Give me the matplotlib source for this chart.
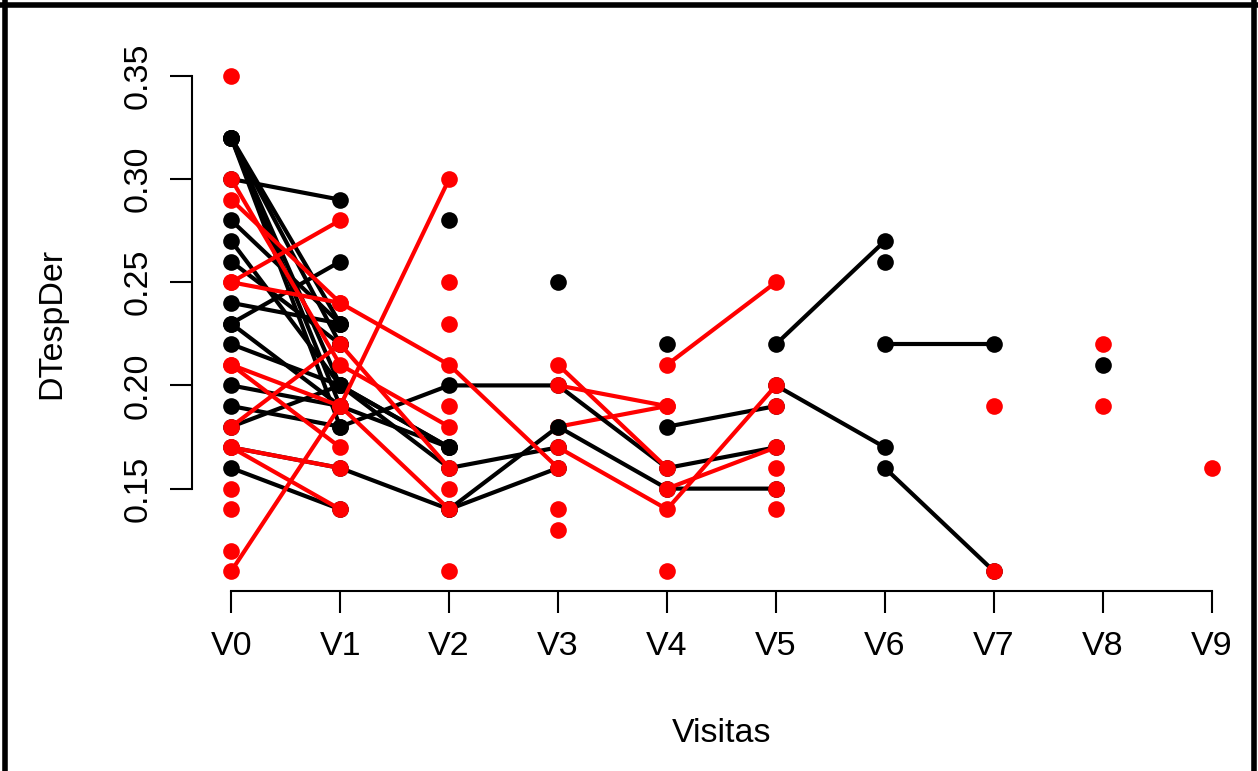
import numpy as np
import matplotlib.pyplot as plt
from matplotlib.lines import Line2D

plt.rcParams['font.family'] = ['Liberation Sans', 'DejaVu Sans']

visits = ['V0', 'V1', 'V2', 'V3', 'V4', 'V5', 'V6', 'V7', 'V8', 'V9']
yticks = [0.15, 0.20, 0.25, 0.30, 0.35]

# one entry per subject (drawing order): group, first visit, values at consecutive visits
subj_group = ['r'] + ['k'] * 29 + ['r'] * 36
subj_start = ([3] +
              [0] * 18 + [2, 2, 3, 4, 4, 5, 5, 6, 6, 6, 8] +
              [0] * 14 + [2] * 5 + [3] * 5 + [4] * 3 + [5] * 4 + [7, 7, 8, 8, 9])
subj_values = [
    [0.18, 0.19],
    # black, from V0
    [0.30, 0.29],
    [0.32, 0.23],
    [0.32, 0.20, 0.17],
    [0.32, 0.19, 0.17],
    [0.32, 0.18, 0.20, 0.20, 0.16, 0.17],
    [0.32, 0.22],
    [0.28, 0.23],
    [0.27, 0.20, 0.17],
    [0.26, 0.22],
    [0.23, 0.26],
    [0.23, 0.19],
    [0.22, 0.20, 0.16, 0.17],
    [0.24, 0.23],
    [0.20, 0.19],
    [0.19, 0.18],
    [0.18, 0.20],
    [0.17, 0.16, 0.14, 0.18, 0.15, 0.15],
    [0.16, 0.14],
    # black, later visits
    [0.28],
    [0.14, 0.16],
    [0.25],
    [0.22],
    [0.18, 0.19],
    [0.22, 0.27],
    [0.20, 0.17],
    [0.26],
    [0.22, 0.22],
    [0.16, 0.11],
    [0.21],
    # red, from V0
    [0.35],
    [0.30, 0.21, 0.18],
    [0.29, 0.24, 0.21, 0.16],
    [0.25, 0.28],
    [0.25, 0.24],
    [0.18, 0.22, 0.16],
    [0.21, 0.19, 0.14],
    [0.21, 0.17],
    [0.17, 0.16],
    [0.17, 0.14],
    [0.15],
    [0.14],
    [0.12],
    [0.11, 0.19, 0.30],
    # red, later visits
    [0.25], [0.23], [0.19], [0.15], [0.11],
    [0.21, 0.16],
    [0.20, 0.19],
    [0.17, 0.14, 0.20],
    [0.14], [0.13],
    [0.21, 0.25],
    [0.15, 0.17],
    [0.11],
    [0.19], [0.16], [0.15], [0.14],
    [0.19], [0.11],
    [0.22], [0.19],
    [0.16],
]
colors = {'k': 'black', 'r': '#ff0000'}

W, H = 1258, 771
fig = plt.figure(figsize=(W / 100, H / 100), dpi=100)
ax = fig.add_axes([192 / W, 1 - 591 / H, (1251 - 192) / W, (591 - 56) / H])

for g, s, vals in zip(subj_group, subj_start, subj_values):
    x = np.arange(s, s + len(vals))
    ax.plot(x, vals, '-o', color=colors[g], lw=3.0, markersize=12,
            markeredgewidth=0, solid_capstyle='round', clip_on=False)

ax.set_xlim(-0.36, 9.36)
ax.set_ylim(0.1004, 0.3596)
for side in ['top', 'right']:
    ax.spines[side].set_visible(False)
ax.spines['left'].set_bounds(0.15, 0.35)
ax.spines['bottom'].set_bounds(0, 9)
for side in ['left', 'bottom']:
    ax.spines[side].set_linewidth(1.5)

ax.set_xticks(range(len(visits)))
ax.set_xticklabels(visits)
ax.set_yticks(yticks)
ax.set_yticklabels(['%.2f' % v for v in yticks], rotation=90, va='center')
ax.tick_params(length=15.5, width=1.5, labelsize=24.5, color='black')
ax.tick_params(axis='x', pad=13)
ax.tick_params(axis='y', pad=12)

ax.set_xlabel('Visitas', fontsize=24.5)
ax.xaxis.label.set_va('center')
ax.xaxis.set_label_coords(0.5, (591 - 733) / (591 - 56))
ax.set_ylabel('DTespDer', fontsize=24.5)
ax.yaxis.label.set_va('center')
ax.yaxis.label.set_ha('center')
ax.yaxis.set_label_coords((52 - 192) / (1251 - 192), 0.5)

# screenshot frame
fig.add_artist(Line2D([4.5 / W, 4.5 / W], [0, 1 - 2 / H], color='black', lw=4))
fig.add_artist(Line2D([2 / W, 1 - 2 / W], [1 - 4.5 / H, 1 - 4.5 / H], color='black', lw=4))
fig.add_artist(Line2D([1 - 4.5 / W, 1 - 4.5 / W], [0, 1 - 2 / H], color='black', lw=4))

fig.savefig('out.png', dpi=100)
